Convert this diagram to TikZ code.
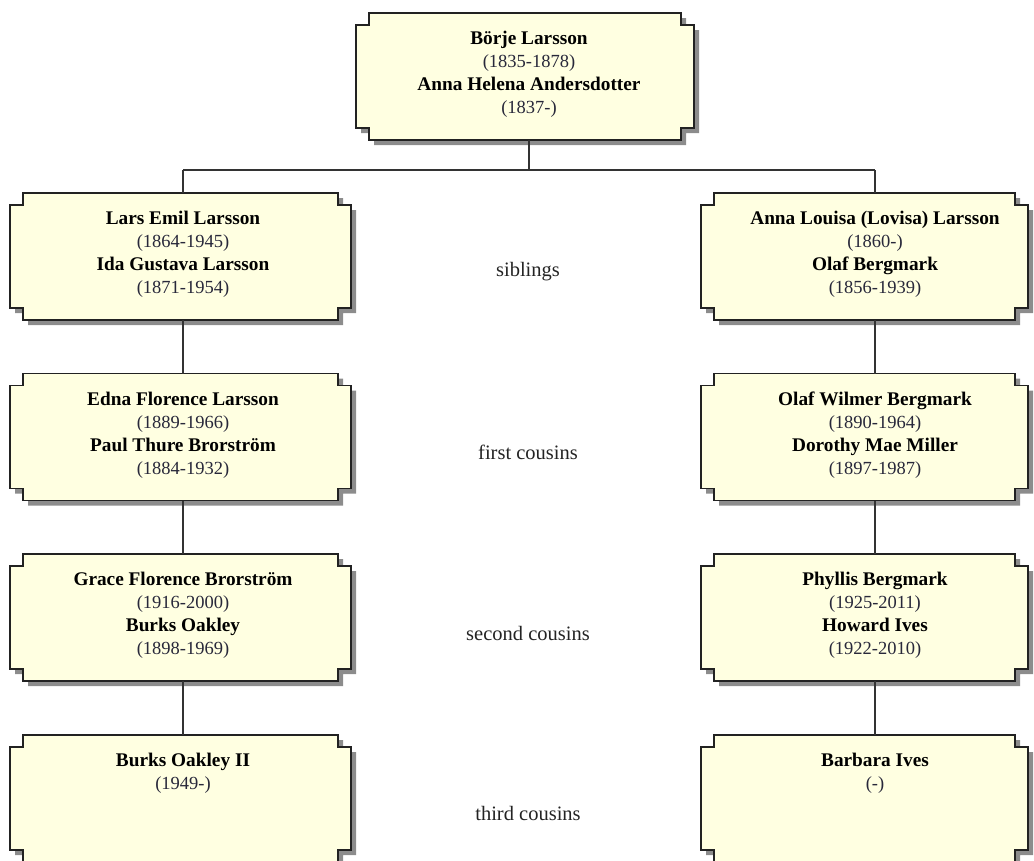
\documentclass[tikz,border=0pt]{standalone}
\usepackage{fontspec}
\setmainfont{Liberation Serif}
\usetikzlibrary{calc}
\pgfdeclarelayer{bg}
\pgfsetlayers{bg,main}
\definecolor{boxfill}{RGB}{255,255,225}
\definecolor{boxline}{RGB}{34,34,34}
\definecolor{shadowc}{RGB}{140,140,140}
\definecolor{conncol}{RGB}{51,51,51}
\definecolor{datecol}{RGB}{40,40,58}
\definecolor{labcol}{RGB}{35,35,35}
\newcommand\nm[1]{{\bfseries\fontsize{19.3}{23}\selectfont #1}}
\newcommand\dt[1]{{\color{datecol}\fontsize{18.5}{23}\selectfont #1}}
\tikzset{
  famcell/.style={rectangle, minimum height=127pt, inner sep=0pt, outer sep=0pt, draw=none},
  topcell/.style={famcell, minimum width=338pt},
  leftcell/.style={famcell, minimum width=341pt},
  rightcell/.style={famcell, minimum width=327pt},
  txt/.style={anchor=north, align=center, inner sep=0pt, font=\fontsize{19.3}{23}\selectfont},
  lab/.style={font=\fontsize{20.5}{24}\selectfont, text=labcol, inner sep=0pt},
  conn/.style={draw=conncol, line width=1.7pt},
  outline/.style={draw=boxline, fill=boxfill, line width=1.6pt, line join=miter},
}
\begin{document}
\begin{tikzpicture}[x=1pt,y=-1pt]
\useasboundingbox (0,0) rectangle (1034,860);
% boxes
\node[topcell] (top) at (525,76.5) {};
\node[leftcell] (l1) at (180.5,256.5) {};
\node[leftcell] (l2) at (180.5,437) {};
\node[leftcell] (l3) at (180.5,617.5) {};
\node[leftcell] (l4) at (180.5,798.5) {};
\node[rightcell] (r1) at (864.5,256.5) {};
\node[rightcell] (r2) at (864.5,437) {};
\node[rightcell] (r3) at (864.5,617.5) {};
\node[rightcell] (r4) at (864.5,798.5) {};
% junctions
\coordinate (jt) at (529,170);
\coordinate (jl) at (183,170);
\coordinate (jr) at (875,170);
% texts
\node[txt] (topt) at ($(jt |- top.north)+(0,18)$) {\nm{Börje Larsson}\\\dt{(1835-1878)}\\\nm{Anna Helena Andersdotter}\\\dt{(1837-)}};
\node[txt] (l1t) at ($(jl |- l1.north)+(0,18)$) {\nm{Lars Emil Larsson}\\\dt{(1864-1945)}\\\nm{Ida Gustava Larsson}\\\dt{(1871-1954)}};
\node[txt] (r1t) at ($(jr |- r1.north)+(0,18)$) {\nm{Anna Louisa (Lovisa) Larsson}\\\dt{(1860-)}\\\nm{Olaf Bergmark}\\\dt{(1856-1939)}};
\node[txt] (l2t) at ($(jl |- l2.north)+(0,18)$) {\nm{Edna Florence Larsson}\\\dt{(1889-1966)}\\\nm{Paul Thure Brorström}\\\dt{(1884-1932)}};
\node[txt] (r2t) at ($(jr |- r2.north)+(0,18)$) {\nm{Olaf Wilmer Bergmark}\\\dt{(1890-1964)}\\\nm{Dorothy Mae Miller}\\\dt{(1897-1987)}};
\node[txt] (l3t) at ($(jl |- l3.north)+(0,18)$) {\nm{Grace Florence Brorström}\\\dt{(1916-2000)}\\\nm{Burks Oakley}\\\dt{(1898-1969)}};
\node[txt] (r3t) at ($(jr |- r3.north)+(0,18)$) {\nm{Phyllis Bergmark}\\\dt{(1925-2011)}\\\nm{Howard Ives}\\\dt{(1922-2010)}};
\node[txt] (l4t) at ($(jl |- l4.north)+(0,18)$) {\nm{Burks Oakley II}\\\dt{(1949-)}};
\node[txt] (r4t) at ($(jr |- r4.north)+(0,18)$) {\nm{Barbara Ives}\\\dt{(-)}};
% relation labels
\node[lab] (s1) at (528,272) {siblings};
\node[lab] (s2) at (528,452) {first cousins};
\node[lab] (s3) at (528,633) {second cousins};
\node[lab] (s4) at (528,813) {third cousins};
% connectors
\draw[conn] (jt |- top.south) -- (jt);
\draw[conn] (jl) -- (jr);
\draw[conn] (jl) -- (jl |- l1.north);
\draw[conn] (jr) -- (jr |- r1.north);
\draw[conn] (jl |- l1.south) -- (jl |- l2.north);
\draw[conn] (jl |- l2.south) -- (jl |- l3.north);
\draw[conn] (jl |- l3.south) -- (jl |- l4.north);
\draw[conn] (jr |- r1.south) -- (jr |- r2.north);
\draw[conn] (jr |- r2.south) -- (jr |- r3.north);
\draw[conn] (jr |- r3.south) -- (jr |- r4.north);
% notched shapes with shadow
\begin{pgfonlayer}{bg}
\foreach \n in {top,l1,l2,l3,l4,r1,r2,r3,r4}{
  \fill[shadowc] ($(\n.north west)+(18,5)$) -- ($(\n.north east)+(-8,5)$) -- ++(0,12) -- ++(13,0)
    -- ($(\n.south east)+(5,-7)$) -- ++(-13,0) -- ++(0,12) -- ($(\n.south west)+(18,5)$)
    -- ++(0,-12) -- ++(-13,0) -- ($(\n.north west)+(5,17)$) -- ++(13,0) -- cycle;
  \path[outline] ($(\n.north west)+(13,0)$) -- ($(\n.north east)+(-13,0)$) -- ++(0,12) -- ++(13,0)
    -- ($(\n.south east)+(0,-12)$) -- ++(-13,0) -- ++(0,12) -- ($(\n.south west)+(13,0)$)
    -- ++(0,-12) -- ++(-13,0) -- ($(\n.north west)+(0,12)$) -- ++(13,0) -- cycle;
}
\end{pgfonlayer}
\end{tikzpicture}
\end{document}
